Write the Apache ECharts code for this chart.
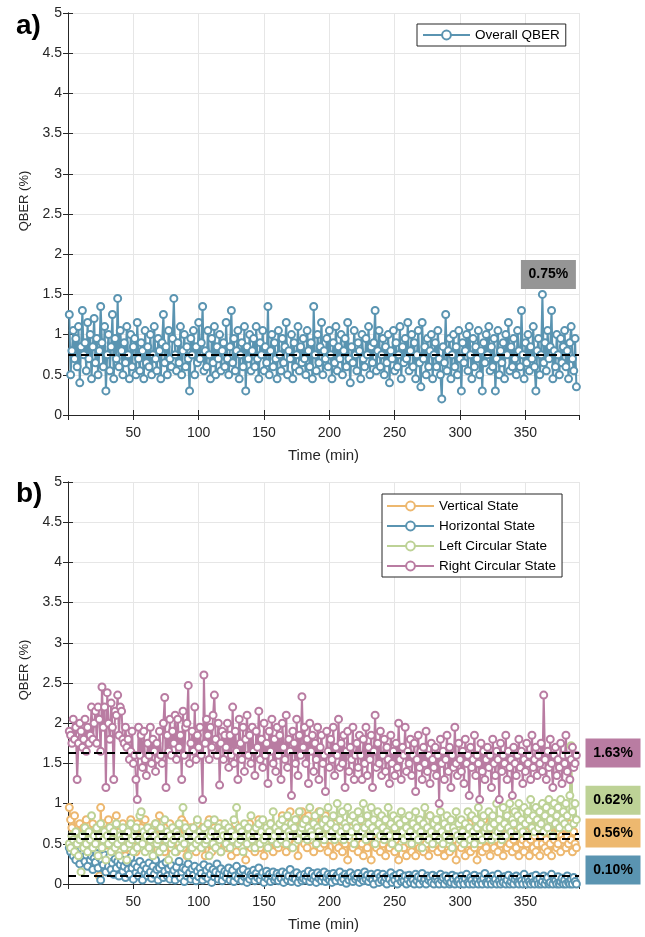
<!DOCTYPE html>
<html>
<head>
<meta charset="utf-8">
<script src="https://cdn.jsdelivr.net/npm/echarts@6/dist/echarts.min.js"></script>
<style>
html,body{margin:0;padding:0;background:#fff;}
#chart{width:645px;height:937px;}
</style>
</head>
<body>
<div id="chart"></div>
<script>
// QBER (%) sampled once per minute, minute 1 .. 389
var overall = [
 1.25,.5,.8,1.05,.7,.95,.6,1.1,.4,.85,1.3,.75,.9,.55,1.15,.7,1.0,.45,.85,1.2,
 .65,.95,.5,.8,1.35,.9,.6,1.1,.3,.75,1.0,.55,.85,1.25,.45,.95,.7,1.45,.6,1.05,
 .8,.5,.9,.65,1.1,.75,.45,1.0,.6,.85,.95,.5,1.15,.7,.55,.9,.8,.45,1.05,.65,
 .85,.6,1.0,.5,.75,1.1,.7,.55,.95,.8,.45,.9,1.25,.65,.85,.5,1.05,.7,.6,.95,
 1.45,.75,.55,.9,.65,1.1,.5,.8,1.0,.6,.85,.7,.3,.95,.75,1.05,.5,.85,.65,1.15,
 .7,.9,1.35,.55,.8,.6,1.05,.75,.45,.95,.65,1.1,.5,.85,.7,1.0,.55,.8,.9,.6,
 1.15,.7,.5,.85,1.3,.65,.95,.55,.8,1.05,.45,.75,.9,.6,1.1,.3,.85,.7,1.0,.55,
 .8,.95,.6,1.1,.7,.45,.9,.75,1.05,.55,.85,.65,1.35,.5,.8,1.0,.6,.9,.7,.45,
 1.05,.75,.55,.95,.65,.85,1.15,.5,.8,.7,1.0,.45,.9,.6,.75,1.1,.55,.85,.65,.95,
 .7,.5,1.05,.8,.6,.9,.45,1.35,.75,.55,1.0,.65,.85,1.15,.5,.8,.7,.95,.6,1.05,
 .75,.45,.9,.65,1.1,.55,.85,.7,1.0,.5,.8,.95,.6,1.15,.7,.4,.85,.65,1.05,.75,
 .55,.9,.8,.45,1.0,.7,.6,.95,.75,1.1,.5,.85,.65,.9,1.3,.55,.8,1.05,.6,.75,
 .95,.5,.85,.65,1.0,.4,.8,.7,1.05,.55,.9,.6,.75,1.1,.45,.85,.65,.95,.7,1.15,
 .55,.8,1.0,.6,.9,.45,.75,1.05,.65,.35,1.15,.7,.85,.5,.95,.6,.8,1.0,.45,.75,
 .9,.6,1.05,.7,.5,.2,.85,.65,1.25,.55,.8,.95,.45,.75,1.0,.6,.85,.5,1.05,.7,
 .3,.9,.65,.8,1.0,.55,1.1,.75,.45,.95,.6,.85,.7,1.05,.5,.8,.3,.9,.65,1.0,
 .75,1.1,.55,.85,.6,.95,.3,.7,1.05,.5,.8,.65,.9,.45,1.0,.75,1.15,.55,.85,.6,
 .95,.7,.5,1.05,.8,.6,1.3,.75,.45,.9,.65,1.0,.55,.85,.7,1.1,.6,.3,.8,.95,
 .5,.75,1.5,.65,.9,.55,1.05,.7,.85,1.3,.45,.8,.6,1.0,.75,.5,.95,.65,.85,1.05,
 .6,.8,.45,.9,1.1,.7,.55,.95,.35
];
var vertical = [
 .95,.8,.7,.55,.85,.45,.65,.5,.75,.6,.4,.7,.55,.8,.5,.65,.35,.6,.75,.5,
 .55,.7,.45,.1,.95,.6,.75,.5,.65,.4,.8,.55,.6,.45,.7,.5,.85,.6,.4,.65,
 .5,.75,.55,.35,.7,.6,.45,.8,.5,.65,.55,.4,.75,.6,.5,.7,.45,.55,.8,.6,
 .45,.65,.5,.7,.55,.35,.75,.6,.5,.85,.45,.65,.55,.4,.7,.6,.5,.75,.45,.6,
 .55,.7,.4,.65,.5,.6,.8,.45,.75,.55,.35,.6,.5,.7,.45,.65,.55,.4,.75,.5,
 .6,.45,.7,.55,.35,.65,.5,.8,.6,.4,.55,.7,.45,.6,.5,.75,.4,.65,.55,.5,
 .7,.45,.6,.5,.35,.65,.55,.75,.4,.6,.5,.7,.45,.55,.65,.3,.6,.5,.75,.45,
 .55,.65,.4,.6,.5,.8,.45,.55,.7,.35,.6,.5,.65,.45,.75,.55,.4,.6,.5,.7,
 .45,.65,.55,.85,.5,.6,.4,.75,.55,.9,.45,.6,.7,.5,.8,.35,.65,.55,.9,.6,
 .5,.75,.45,.85,.6,.55,.7,.4,.8,.5,.65,.9,.45,.6,.75,.5,.85,.55,.4,.7,
 .55,.65,.35,.75,.5,.6,.45,.7,.55,.4,.65,.5,.75,.3,.6,.55,.7,.45,.6,.5,
 .65,.4,.55,.7,.5,.35,.6,.75,.45,.55,.65,.3,.6,.5,.7,.45,.55,.8,.4,.6,
 .5,.65,.35,.55,.7,.45,.6,.5,.75,.4,.55,.65,.3,.6,.5,.7,.45,.55,.35,.65,
 .5,.6,.4,.7,.55,.35,.65,.5,.45,.75,.55,.4,.6,.5,.7,.35,.85,.55,.45,.6,
 .5,.65,.4,.55,.7,.45,.6,.35,.55,.75,.5,.4,.6,.65,.45,.55,.3,.7,.5,.6,
 .45,.65,.55,.35,.6,.5,.75,.4,.55,.65,.45,.6,.3,.7,.5,.55,.4,.8,.6,.45,
 .55,.7,.35,.6,.5,.45,.65,.55,.4,.75,.5,.6,.35,.55,.7,.45,.6,.5,.85,.4,
 .55,.65,.45,.6,.35,.7,.5,.55,.4,.65,.5,.6,.35,.55,.7,.45,.6,.4,.5,.65,
 .35,.6,.5,.7,.45,.55,.4,.65,.5,.35,.6,.55,.75,.45,.5,.65,.4,.6,.55,.7,
 .45,.6,.5,.75,.55,.4,.65,.5,.45
];
var horizontal = [
 .45,.4,.5,.35,.42,.3,.48,.38,.25,.44,.33,.4,.28,.36,.22,.41,.3,.35,.18,.32,
 .27,.38,.2,.33,.05,.29,.24,.36,.15,.3,.22,.35,.18,.26,.12,.31,.2,.28,.1,.24,
 .3,.16,.22,.08,.27,.18,.12,.33,.2,.06,.25,.14,.21,.1,.28,.17,.05,.23,.13,.19,
 .1,.26,.15,.07,.22,.12,.3,.18,.05,.2,.11,.24,.08,.16,.27,.1,.19,.06,.23,.13,
 .17,.05,.21,.12,.28,.08,.15,.2,.03,.18,.1,.25,.14,.06,.19,.11,.22,.04,.16,.09,
 .2,.13,.05,.24,.1,.17,.07,.21,.12,.02,.18,.09,.15,.25,.06,.13,.19,.04,.11,.16,
 .08,.14,.2,.05,.12,.17,.03,.1,.22,.07,.13,.16,.04,.18,.09,.11,.02,.15,.06,.12,
 .1,.17,.04,.13,.08,.2,.05,.11,.14,.02,.09,.16,.06,.12,.03,.1,.15,.05,.08,.13,
 .04,.11,.07,.15,.02,.09,.13,.05,.1,.18,.03,.08,.12,.06,.14,.02,.09,.11,.04,.07,
 .12,.05,.1,.16,.03,.08,.13,.06,.1,.02,.14,.07,.11,.04,.09,.15,.03,.08,.12,.05,
 .1,.02,.13,.07,.04,.11,.08,.15,.03,.09,.06,.12,.01,.1,.05,.14,.08,.03,.11,.06,
 .09,.13,.02,.07,.1,.04,.15,.06,.11,.03,.08,.12,.05,0,.1,.07,.13,.02,.09,.05,
 .12,.03,.08,0,.1,.06,.14,.02,.09,.05,.11,0,.07,.13,.03,.08,.04,.1,0,.06,
 .11,.02,.08,.05,0,.12,.04,.09,0,.07,.13,.03,.06,0,.1,.05,.08,.02,.11,0,
 .06,.09,.03,0,.12,.05,.08,0,.1,.04,.07,0,.02,.11,.06,0,.09,.03,.05,0,
 .1,.04,0,.07,.12,.02,0,.08,.05,0,.11,.03,.06,0,.09,.04,0,.07,.13,.02,
 0,.08,.05,0,.1,.03,.06,0,.12,.04,0,.07,.02,.09,0,.05,.11,0,.03,.08,
 0,.06,.1,.02,0,.08,.04,0,.12,.05,0,.07,.03,0,.09,.02,0,.11,.05,0,
 .07,0,.03,.1,0,.05,.08,0,.02,.12,0,.06,.04,0,.09,0,.03,.07,0,.05,
 0,.1,.02,0,.06,0,.08,.03,0
];
var leftCircular = [
 .5,.45,.6,.55,.4,.65,.5,.35,.55,.15,.6,.45,.7,.5,.4,.65,.55,.85,.45,.6,
 .5,.7,.35,.6,.75,.45,.55,.65,.3,.6,.5,.7,.4,.55,.65,.45,.75,.5,.35,.6,
 .55,.7,.45,.6,.3,.65,.5,.75,.55,.4,.6,.7,.45,.55,.85,.9,.5,.65,.4,.6,
 .7,.45,.55,.65,.35,.6,.75,.5,.55,.4,.7,.6,.45,.8,.55,.65,.3,.6,.5,.7,
 .55,.4,.65,.6,.75,.45,.55,.95,.5,.7,.6,.35,.65,.55,.45,.7,.6,.5,.8,.55,
 .65,.45,.6,.7,.5,.55,.75,.35,.6,.65,.5,.8,.45,.6,.7,.55,.4,.65,.6,.75,
 .5,.6,.7,.45,.65,.55,.8,.6,.95,.5,.7,.55,.65,.4,.75,.6,.5,.7,.6,.85,
 .55,.65,.45,.7,.6,.75,.5,.65,.8,.55,.6,.7,.45,.65,.75,.55,.9,.6,.7,.5,
 .65,.75,.55,.8,.6,.7,.5,.85,.65,.6,.75,.45,.7,.8,.6,.55,.9,.65,.7,.75,
 .6,.8,.55,.7,.95,.65,.6,.75,.85,.5,.7,.65,.9,.6,.75,.55,.8,.7,.95,.6,
 .75,.65,.85,.55,.7,1.0,.6,.8,.65,.9,.55,.75,.7,.95,.6,.8,.65,.85,.5,.75,
 .7,.9,.6,.8,.65,1.0,.7,.55,.85,.75,.6,.95,.7,.8,.5,.65,.9,.75,.6,.85,
 .7,.55,.8,.65,.95,.6,.75,.5,.85,.7,.6,.8,.45,.75,.9,.65,.55,.8,.7,.6,
 .85,.65,.5,.75,.6,.9,.7,.55,.8,.65,.45,.75,.95,.6,.7,.55,.85,.65,.5,.75,
 .6,.8,.7,.55,.9,.65,.5,.75,.6,.85,.7,.55,.8,.45,.7,.65,.9,.6,.75,.55,
 .8,.65,.5,.75,.6,.9,.7,.55,.85,.65,.5,.8,.7,.95,.6,.75,.55,.85,.65,.7,
 .6,.9,.7,.55,.85,.75,.6,1.0,.65,.8,.7,.55,.95,.75,.6,.85,.7,1.0,.65,.8,
 .75,.9,.6,.85,1.0,.7,.8,.65,.95,.75,.6,.9,.8,1.05,.7,.85,.65,.95,.8,.7,
 .9,.75,1.0,.65,.85,.95,.7,1.05,.8,.9,.6,1.0,.75,.85,.95,.7,1.05,.8,.9,.75,
 1.0,.85,.7,1.1,1.72,.9,.75,1.0,.8
];
var rightCircular = [
 1.9,1.85,1.75,2.05,1.8,1.95,1.3,1.75,2.0,1.9,1.7,1.8,2.05,1.65,1.95,1.75,1.85,2.2,1.8,2.0,
 2.15,1.75,2.2,2.05,1.65,2.45,1.95,2.2,1.2,2.38,2.0,1.8,2.25,1.95,1.3,2.15,2.1,2.35,1.85,2.2,
 2.15,1.8,1.75,1.95,1.7,1.8,1.55,1.65,1.9,1.5,1.6,1.3,1.05,1.95,1.6,1.85,1.45,1.9,1.55,1.35,
 1.75,1.6,1.95,1.5,1.8,1.65,1.4,1.75,1.55,1.9,1.6,1.5,2.0,2.32,1.2,1.85,1.65,2.05,1.6,1.9,
 1.75,2.1,1.55,2.05,1.7,1.85,1.3,2.15,1.6,1.95,2.0,2.47,1.5,1.75,1.9,1.65,2.2,1.55,1.85,1.7,
 1.95,1.6,1.05,2.6,1.75,2.05,1.85,1.55,1.95,1.7,2.1,2.35,1.8,1.6,2.0,1.23,1.75,1.9,1.55,1.85,
 1.7,2.0,1.45,1.85,1.6,2.2,1.5,1.9,1.65,1.3,2.05,1.75,1.55,1.95,1.4,1.8,2.1,1.6,1.85,1.5,
 1.95,1.65,1.35,1.9,1.7,2.15,1.55,1.8,1.45,2.0,1.6,1.75,1.25,1.9,1.65,2.05,1.5,1.8,1.4,1.95,
 1.6,1.85,1.3,2.0,1.7,1.55,2.1,1.45,1.8,1.65,1.1,1.9,1.75,1.5,2.05,1.35,1.85,1.6,2.33,1.7,
 1.95,1.5,1.8,1.25,2.0,1.65,1.85,1.4,1.75,1.55,1.95,1.3,1.7,1.85,1.5,1.6,1.15,1.9,1.65,1.45,
 1.8,1.55,1.95,1.35,1.7,1.6,2.05,1.45,1.75,1.5,1.85,1.2,1.65,1.9,1.4,1.7,1.55,1.95,1.3,1.6,
 1.75,1.45,1.85,1.6,1.3,1.8,1.5,1.95,1.35,1.7,1.55,1.85,1.2,1.65,2.1,1.45,1.75,1.5,1.9,1.35,
 1.6,1.8,1.4,1.7,1.55,1.25,1.85,1.5,1.65,1.35,1.75,1.45,2.0,1.55,1.3,1.7,1.6,1.95,1.4,1.65,
 1.5,1.8,1.35,1.6,1.75,1.15,1.55,1.85,1.45,1.65,1.3,1.7,1.5,1.9,1.4,1.6,1.25,1.75,1.55,1.45,
 1.7,1.35,1.6,1.0,1.8,1.5,1.65,1.3,1.55,1.85,1.4,1.7,1.2,1.6,1.45,1.95,1.5,1.35,1.75,1.55,
 1.4,1.65,1.25,1.8,1.5,1.6,1.1,1.7,1.45,1.55,1.85,1.35,1.6,1.5,1.05,1.75,1.4,1.65,1.3,1.55,
 1.7,1.45,1.6,1.2,1.8,1.5,1.35,1.65,1.55,1.05,1.75,1.4,1.6,1.5,1.85,1.3,1.65,1.45,1.55,1.1,
 1.7,1.5,1.35,1.6,1.8,1.45,1.65,1.25,1.55,1.4,1.75,1.5,1.6,1.3,1.85,1.45,1.55,1.7,1.35,1.6,
 1.5,1.75,1.4,2.35,1.55,1.3,1.65,1.45,1.8,1.5,1.2,1.6,1.7,1.35,1.55,1.45,1.75,1.25,1.6,1.5,
 1.85,1.4,1.6,1.3,1.55,1.7,1.45,1.5,1.6
];

// average QBER printed on the figure (%)
var overallMean = 0.75;
var stateNames = ['Vertical State', 'Horizontal State', 'Left Circular State', 'Right Circular State'];
var stateValues = [vertical, horizontal, leftCircular, rightCircular];
var stateMeans = [0.56, 0.10, 0.62, 1.63];

// styling (kept apart from the data)
var stateColors = ['#EDB86F', '#5A94B1', '#BDD296', '#B97CA2'];
var labelShift = [-6, -6, -34, 0];   // vertical nudge of the side boxes so they don't overlap
var blue = '#5A94B1';
var ink = '#262626';
var font = '"Liberation Sans", Arial, sans-serif';

var minutes = [];
for (var i = 0; i < overall.length; i++) minutes.push(i + 1);

function pairs(vals) {
	return vals.map(function (v, i) { return [minutes[i], v]; });
}

function xAxes(idx) {
	return [{
		gridIndex: idx, type: 'value', min: 0, max: 391, interval: 50,
		name: 'Time (min)', nameLocation: 'middle', nameGap: 33,
		nameTextStyle: {color: ink, fontSize: 15, fontFamily: font},
		axisLine: {show: true, lineStyle: {color: ink, width: 1}},
		axisTick: {show: true, inside: true, length: 5, lineStyle: {color: ink}},
		axisLabel: {color: ink, fontSize: 14, fontFamily: font, margin: 11, showMinLabel: false, showMaxLabel: false},
		splitLine: {show: true, lineStyle: {color: '#e6e6e6', width: 1}}
	}, {
		gridIndex: idx, type: 'value', min: 0, max: 391, interval: 50, position: 'top',
		axisLine: {show: true, lineStyle: {color: ink, width: 1}},
		axisTick: {show: true, inside: true, length: 5, lineStyle: {color: ink}},
		axisLabel: {show: false}, splitLine: {show: false}
	}];
}

function yAxes(idx) {
	return [{
		gridIndex: idx, type: 'value', min: 0, max: 5, interval: 0.5,
		name: 'QBER (%)', nameLocation: 'middle', nameGap: 37,
		nameTextStyle: {color: ink, fontSize: 13, fontFamily: font, padding: [0, 0, 0, 26]},
		axisLine: {show: true, lineStyle: {color: ink, width: 1}},
		axisTick: {show: true, inside: true, length: 5, lineStyle: {color: ink}},
		axisLabel: {color: ink, fontSize: 14, fontFamily: font, margin: 6},
		splitLine: {show: true, lineStyle: {color: '#e6e6e6', width: 1}}
	}, {
		gridIndex: idx, type: 'value', min: 0, max: 5, interval: 0.5, position: 'right',
		axisLine: {show: true, lineStyle: {color: ink, width: 1}},
		axisTick: {show: true, inside: true, length: 5, lineStyle: {color: ink}},
		axisLabel: {show: false}, splitLine: {show: false}
	}];
}

function meanLine(value) {
	return {
		silent: true, symbol: 'none',
		lineStyle: {color: '#000', type: [8, 5], width: 2},
		label: {show: false},
		data: [{yAxis: value}]
	};
}

function dotSeries(name, vals, color, xi, yi) {
	return {
		name: name, type: 'line', xAxisIndex: xi, yAxisIndex: yi,
		data: pairs(vals),
		symbol: 'circle', symbolSize: 7, showSymbol: true, showAllSymbol: true,
		lineStyle: {color: color, width: 2},
		itemStyle: {color: '#fff', borderColor: color, borderWidth: 2},
		emphasis: {disabled: true}, clip: false
	};
}

var series = [];
var overallSeries = dotSeries('Overall QBER', overall, blue, 0, 0);
overallSeries.markLine = meanLine(overallMean);
overallSeries.markPoint = {
	symbol: 'rect', symbolSize: [55, 29], symbolOffset: [6, -20],
	itemStyle: {color: '#959595'},
	label: {show: true, color: '#000', fontSize: 14, fontWeight: 'bold', fontFamily: font,
		formatter: function () { return overallMean.toFixed(2) + '%'; }},
	data: [{type: 'max', valueDim: 'y'}]
};
series.push(overallSeries);

stateNames.forEach(function (name, k) {
	var s = dotSeries(name, stateValues[k], stateColors[k], 2, 2);
	s.markLine = meanLine(stateMeans[k]);
	s.markPoint = {
		symbol: 'rect', symbolSize: [55, 29], symbolOffset: [34, labelShift[k]],
		itemStyle: {color: stateColors[k]},
		label: {show: true, color: '#000', fontSize: 14, fontWeight: 'bold', fontFamily: font,
			formatter: function () { return stateMeans[k].toFixed(2) + '%'; }},
		data: [{coord: [391, stateMeans[k]]}]
	};
	series.push(s);
});

var legendText = {color: '#000', fontSize: 13.5, fontFamily: font};

var chart = echarts.init(document.getElementById('chart'), null, {renderer: 'canvas'});
chart.setOption({
	animation: false,
	backgroundColor: '#fff',
	title: [
		{text: 'a)', left: 11, top: 7, textStyle: {fontSize: 28, fontWeight: 'bold', color: '#000', fontFamily: font}},
		{text: 'b)', left: 11, top: 475, textStyle: {fontSize: 28, fontWeight: 'bold', color: '#000', fontFamily: font}}
	],
	grid: [
		{left: 68, right: 66, top: 13, height: 402},
		{left: 68, right: 66, top: 482, height: 402}
	],
	xAxis: xAxes(0).concat(xAxes(1)),
	yAxis: yAxes(0).concat(yAxes(1)),
	legend: [{
		data: ['Overall QBER'], left: 417, top: 24, orient: 'vertical',
		itemWidth: 47, itemHeight: 11, itemGap: 6, padding: [4, 6, 4, 5],
		borderColor: ink, borderWidth: 1, backgroundColor: '#fff', selectedMode: false,
		textStyle: legendText
	}, {
		data: stateNames, left: 382, top: 494, orient: 'vertical',
		itemWidth: 47, itemHeight: 11, itemGap: 6, padding: [5, 6, 4, 4],
		borderColor: ink, borderWidth: 1, backgroundColor: '#fff', selectedMode: false,
		textStyle: legendText
	}],
	series: series
});
</script>
</body>
</html>
